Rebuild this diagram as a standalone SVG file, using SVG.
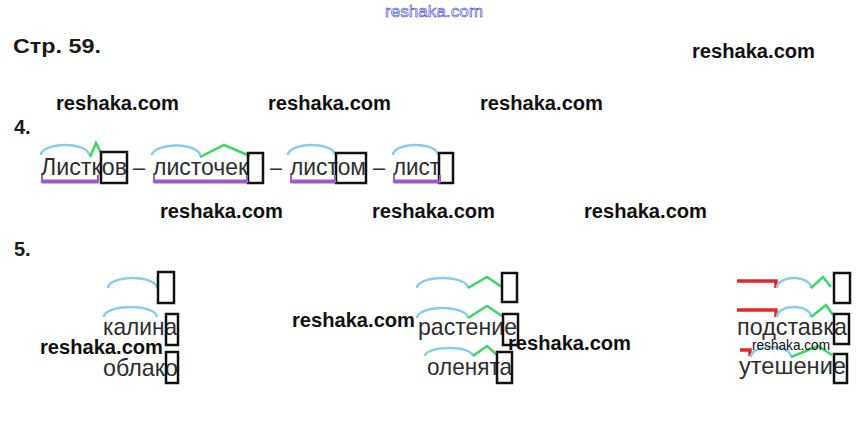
<svg xmlns="http://www.w3.org/2000/svg" width="866" height="438" viewBox="0 0 866 438">
<style>
.w{font-family:"Liberation Sans",Arial,sans-serif;font-size:24px;fill:#2e2e2e}
.wm{font-family:"Liberation Sans",Arial,sans-serif;font-weight:bold;font-size:20px;fill:#111}
.hd{font-family:"Liberation Sans",Arial,sans-serif;font-weight:bold;fill:#1a1a1a}
.arc{fill:none;stroke:#8ccbe6;stroke-width:2.5}
.suf{fill:none;stroke:#3dd46a;stroke-width:2.5;stroke-linejoin:miter}
.pre{fill:none;stroke:#e4262b;stroke-width:3.5}
.box{fill:none;stroke:#111;stroke-width:2.5}
.base{fill:none;stroke:#9b5cc4;stroke-width:2}
.baser{fill:#9b5cc4}
</style>
<rect width="866" height="438" fill="#fff"/>

<g id="header">
<text x="385" y="17" font-family="Liberation Sans,Arial,sans-serif" font-size="17" fill="#fff" stroke="#3a3acf" stroke-width="0.6" textLength="98" lengthAdjust="spacingAndGlyphs">reshaka.com</text>
<text class="hd" x="13" y="53" font-size="21" textLength="88" lengthAdjust="spacingAndGlyphs">Стр. 59.</text>
<text class="hd" x="14" y="134" font-size="20">4.</text>
<text class="hd" x="14" y="256" font-size="20">5.</text>
</g>

<!-- Task 4 -->
<g id="w-listkov">
<text class="w" x="41" y="175" textLength="86" lengthAdjust="spacingAndGlyphs">Листков</text>
<path class="arc" d="M41 155 A24 10 0 0 1 89 155"/>
<path class="suf" d="M90 157 L96 143 L101 153"/>
<rect class="box" x="101" y="152" width="26" height="31"/>
<path class="base" d="M42 175 V182 H98 V175"/><rect class="baser" x="42" y="179.5" width="56" height="4"/>
</g>
<g id="dash1"><text class="w" x="133" y="175" textLength="12" lengthAdjust="spacingAndGlyphs">–</text></g>
<g id="w-listochek">
<text class="w" x="153" y="175" textLength="95" lengthAdjust="spacingAndGlyphs">листочек</text>
<path class="arc" d="M152 155 A24 10 0 0 1 200 156"/>
<path class="suf" d="M200 157 L224 145 L250 156"/>
<rect class="box" x="248" y="153" width="15" height="30"/>
<path class="base" d="M154 175 V182 H247 V175"/><rect class="baser" x="154" y="179.5" width="93" height="4"/>
</g>
<g id="dash2"><text class="w" x="270" y="175" textLength="12" lengthAdjust="spacingAndGlyphs">–</text></g>
<g id="w-listom">
<text class="w" x="290" y="175" textLength="76" lengthAdjust="spacingAndGlyphs">листом</text>
<path class="arc" d="M288 155 A23.5 10 0 0 1 335 155"/>
<rect class="box" x="336" y="153" width="30" height="30"/>
<path class="base" d="M291 175 V182 H335 V175"/><rect class="baser" x="291" y="179.5" width="44" height="4"/>
</g>
<g id="dash3"><text class="w" x="373" y="175" textLength="12" lengthAdjust="spacingAndGlyphs">–</text></g>
<g id="w-list">
<text class="w" x="393" y="175" textLength="47" lengthAdjust="spacingAndGlyphs">лист</text>
<path class="arc" d="M393 155 A22.5 10 0 0 1 438 155"/>
<rect class="box" x="439" y="153" width="14" height="30"/>
<path class="base" d="M394 175 V182 H440 V175"/><rect class="baser" x="394" y="179.5" width="46" height="4"/>
</g>

<!-- Task 5, column 1 -->
<g id="c1-scheme">
<path class="arc" d="M108 288 A24.5 10 0 0 1 157 288"/>
<rect class="box" x="158" y="272" width="16" height="31"/>
</g>
<g id="w-kalina">
<path class="arc" d="M104 317 A26.5 10 0 0 1 157 317"/>
<text class="w" x="103" y="335" textLength="74" lengthAdjust="spacingAndGlyphs">калина</text>
<rect class="box" x="166" y="314" width="12" height="31"/>
</g>
<g id="w-oblako">
<text class="w" x="103" y="376" textLength="75" lengthAdjust="spacingAndGlyphs">облако</text>
<rect class="box" x="166" y="352" width="12" height="31"/>
</g>

<!-- column 2 -->
<g id="c2-scheme">
<path class="arc" d="M417 288 A25.5 10 0 0 1 468 288"/>
<path class="suf" d="M468 288 L487 277 L502 287"/>
<rect class="box" x="502" y="273" width="15" height="29"/>
</g>
<g id="w-rastenie">
<path class="arc" d="M417 318 A25.5 10 0 0 1 468 318"/>
<path class="suf" d="M468 318 L487 306 L502 316"/>
<text class="w" x="418" y="335" textLength="99" lengthAdjust="spacingAndGlyphs">растение</text>
<rect class="box" x="503" y="314" width="15" height="31"/>
</g>
<g id="w-olenyata">
<path class="arc" d="M425 356 A24 8 0 0 1 473 356"/>
<path class="suf" d="M473 356 L487 346 L497 355"/>
<text class="w" x="427" y="375" textLength="85" lengthAdjust="spacingAndGlyphs">оленята</text>
<rect class="box" x="497" y="352" width="15" height="31"/>
</g>

<!-- column 3 -->
<g id="c3-scheme">
<path class="pre" d="M737 281 H776 V288"/>
<path class="arc" d="M777 288 A17 10 0 0 1 811 288"/>
<path class="suf" d="M811 288 L823 277 L831 287"/>
<rect class="box" x="834" y="273" width="16" height="30"/>
</g>
<g id="w-podstavka">
<path class="pre" d="M737 310 H776 V317"/>
<path class="arc" d="M777 317 A17 10 0 0 1 811 317"/>
<path class="suf" d="M811 317 L826 305 L833 315"/>
<text class="w" x="737" y="335" textLength="110" lengthAdjust="spacingAndGlyphs">подставка</text>
<rect class="box" x="834" y="314" width="15" height="30"/>
</g>
<g id="w-uteshenie">
<path class="pre" d="M740 350 H750 V356"/>
<path class="arc" d="M751 357 A20 10 0 0 1 791 357"/>
<path class="suf" d="M791 357 L818 346 L832 355"/>
<text class="w" x="739" y="374" textLength="107" lengthAdjust="spacingAndGlyphs">утешение</text>
<rect class="box" x="834" y="354" width="13" height="29"/>
</g>

<g id="connectors"></g>

<g id="watermarks">
<text class="wm" x="692" y="58" textLength="123" lengthAdjust="spacingAndGlyphs">reshaka.com</text>
<text class="wm" x="56" y="110" textLength="123" lengthAdjust="spacingAndGlyphs">reshaka.com</text>
<text class="wm" x="268" y="110" textLength="123" lengthAdjust="spacingAndGlyphs">reshaka.com</text>
<text class="wm" x="480" y="110" textLength="123" lengthAdjust="spacingAndGlyphs">reshaka.com</text>
<text class="wm" x="160" y="218" textLength="123" lengthAdjust="spacingAndGlyphs">reshaka.com</text>
<text class="wm" x="372" y="218" textLength="123" lengthAdjust="spacingAndGlyphs">reshaka.com</text>
<text class="wm" x="584" y="218" textLength="123" lengthAdjust="spacingAndGlyphs">reshaka.com</text>
<text class="wm" x="292" y="327" textLength="123" lengthAdjust="spacingAndGlyphs">reshaka.com</text>
<text class="wm" x="40" y="354" textLength="123" lengthAdjust="spacingAndGlyphs">reshaka.com</text>
<text class="wm" x="508" y="350" textLength="123" lengthAdjust="spacingAndGlyphs">reshaka.com</text>
<text x="752" y="350" font-family="Liberation Sans,Arial,sans-serif" font-size="15" fill="#111" textLength="78" lengthAdjust="spacingAndGlyphs">reshaka.com</text>
</g>
</svg>
